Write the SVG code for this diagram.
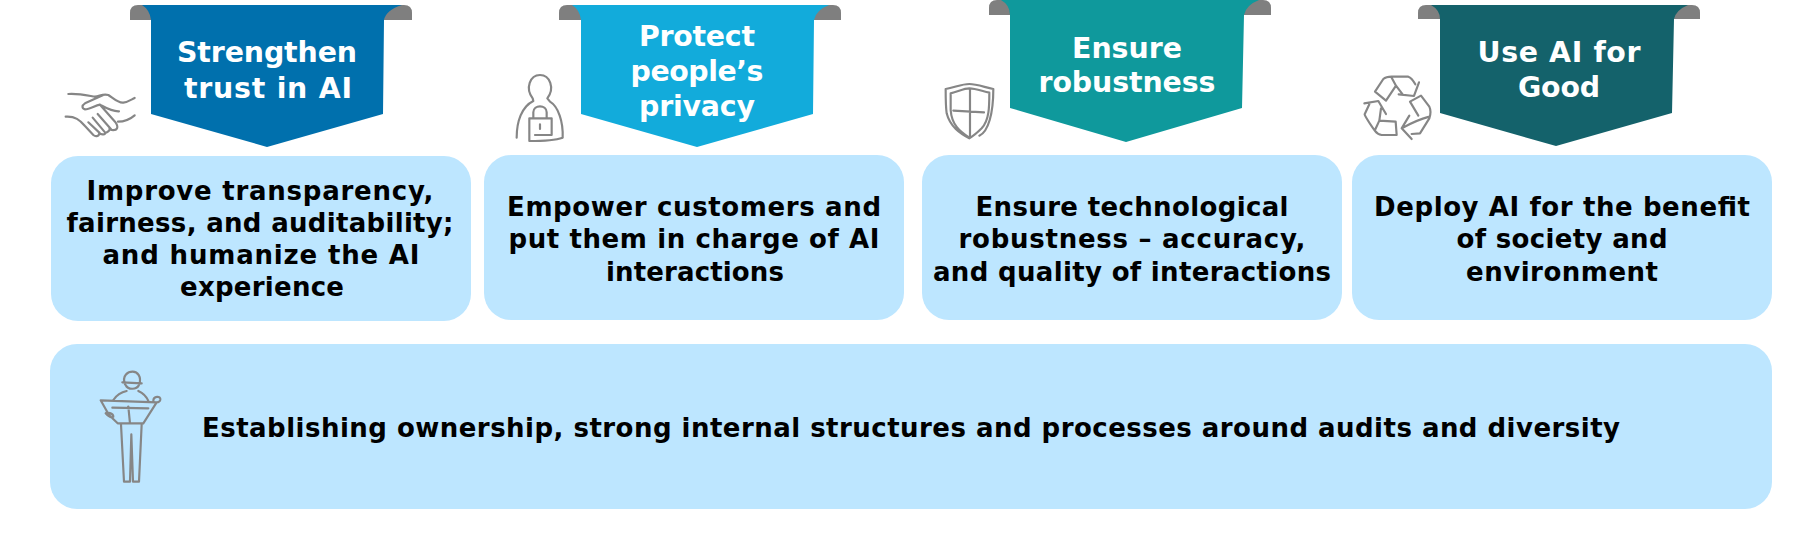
<svg xmlns="http://www.w3.org/2000/svg" width="1818" height="556" viewBox="0 0 1818 556">
<style>
.tab{fill:#7f7f7f}
.box{fill:#bde6ff}
.h{font:bold 28.4px "DejaVu Sans",Verdana,sans-serif;fill:#fff;text-anchor:middle}
.b{font:bold 26px "DejaVu Sans",Verdana,sans-serif;fill:#000;text-anchor:middle}
.l{text-anchor:start}
.ic{fill:none;stroke:#868686;stroke-width:6.5;stroke-linecap:round;stroke-linejoin:round}
</style>
<rect width="1818" height="556" fill="#fff"/>
<g id="pillar-trust">
<path class="tab" d="M130 20V13Q130 5 138 5H404Q412 5 412 13V20Z"/>
<path fill="#0070ad" d="M142 5H402Q386 10 384 20L383 114L267 147L151 114V20Q150 10 142 5Z"/>
<text class="h" x="267" y="62" textLength="180">Strengthen</text>
<text class="h" x="268" y="98" textLength="168">trust in AI</text>
<rect class="box" x="51" y="156" width="420" height="165" rx="27"/>
<text class="b" x="260" y="200" textLength="347">Improve transparency,</text>
<text class="b" x="260" y="232" textLength="387">fairness, and auditability;</text>
<text class="b" x="261" y="264" textLength="317">and humanize the AI</text>
<text class="b" x="262" y="296" textLength="164">experience</text>
<g transform="translate(50 70) scale(.3333)"><path class="ic" d="M55 72C90 70 120 78 135 80C150 78 160 70 175 75C190 85 205 100 220 98C235 96 245 88 254 84M160 75L105 100C95 106 95 116 105 118C120 118 135 106 150 104C165 112 185 125 207 124M47 140C75 138 90 150 105 168L130 195C138 202 148 198 148 188L115 157M128 143L165 187C170 194 152 196 148 188M143 132L178 172C184 182 165 192 165 187M150 104L195 155C208 172 202 182 185 180L178 172M204 155C220 155 240 148 254 136"/></g>
</g>
<g id="pillar-privacy">
<path class="tab" d="M559 20V13Q559 5 567 5H833Q841 5 841 13V20Z"/>
<path fill="#12abdb" d="M572 5H829Q816 10 814 20L813 114L697 147L581 114V20Q580 10 572 5Z"/>
<text class="h" x="697" y="46" textLength="116">Protect</text>
<text class="h" x="697" y="81" textLength="133">people’s</text>
<text class="h" x="697" y="116" textLength="116">privacy</text>
<rect class="box" x="484" y="155" width="420" height="165" rx="27"/>
<text class="b" x="694" y="216" textLength="374">Empower customers and</text>
<text class="b" x="694" y="248" textLength="371">put them in charge of AI</text>
<text class="b" x="695" y="281" textLength="178">interactions</text>
<g transform="translate(500 65) scale(.3333)"><path class="ic" d="M50 218C50 170 65 125 100 108L98 100C75 70 90 30 120 30C150 30 165 70 142 100L150 110C175 125 190 170 188 218C165 226 120 228 88 228V160H155V210H105M100 160V142C100 118 140 118 140 142V160M120 178V192"/></g>
</g>
<g id="pillar-robustness">
<path class="tab" d="M989 15V8Q989 0 997 0H1263Q1271 0 1271 8V15Z"/>
<path fill="#0f999c" d="M1001 0H1259Q1246 5 1244 15L1242 108L1126 142L1010 108V15Q1010 5 1001 0Z"/>
<text class="h" x="1127" y="58" textLength="110">Ensure</text>
<text class="h" x="1127" y="92" textLength="177">robustness</text>
<rect class="box" x="922" y="155" width="420" height="165" rx="27"/>
<text class="b" x="1132" y="216" textLength="313">Ensure technological</text>
<text class="b" x="1132" y="248" textLength="347">robustness – accuracy,</text>
<text class="b" x="1132" y="281" textLength="398">and quality of interactions</text>
<g transform="translate(930 70) scale(.3333)"><path class="ic" d="M148 197C175 185 190 130 190 57C165 52 140 42 118 42C95 42 75 52 47 57C47 90 47 110 50 130C60 170 90 190 118 205C130 198 140 190 155 175C178 150 178 110 178 68C160 65 138 55 118 55C100 55 85 65 62 70C62 85 62 100 62 120C65 165 90 185 118 203M120 58V122M70 122L162 127M120 127V200"/></g>
</g>
<g id="pillar-good">
<path class="tab" d="M1418 19V13Q1418 5 1426 5H1692Q1700 5 1700 13V19Z"/>
<path fill="#14626b" d="M1431 5H1688Q1676 10 1674 19L1672 113L1556 146L1440 113V19Q1440 10 1431 5Z"/>
<text class="h" x="1559" y="62" textLength="163">Use AI for</text>
<text class="h" x="1559" y="97" textLength="82">Good</text>
<rect class="box" x="1352" y="155" width="420" height="165" rx="27"/>
<text class="b" x="1562" y="216" textLength="376">Deploy AI for the benefit</text>
<text class="b" x="1562" y="248" textLength="211">of society and</text>
<text class="b" x="1562" y="281" textLength="192">environment</text>
<g transform="translate(1350 65) scale(.3333)"><path class="ic" d="M108 107L75 80L100 42Q108 35 125 35H175Q185 38 196 58M108 107L138 62L125 38M138 62L158 88M207 52L192 93L146 88M205 152L180 110L213 92L238 125Q245 140 238 160L210 205L185 207M178 152L155 190L185 222M155 190Q200 165 238 155M43 115L85 108L108 147M58 118L44 148Q45 155 75 198Q82 208 95 210H140L137 170L88 167L75 195M93 130L88 167"/></g>
</g>
<g id="foundation">
<rect class="box" x="50" y="344" width="1722" height="165" rx="27"/>
<text class="b l" x="202" y="437" textLength="1418">Establishing ownership, strong internal structures and processes around audits and diversity</text>
<g transform="translate(85 365) scale(.3333)"><path class="ic" d="M120 58C110 30 130 20 143 20C158 20 170 35 163 58M112 52L170 55M122 60C128 75 155 75 162 60M85 105C95 90 105 82 125 78M160 78C175 85 185 95 190 108M205 108C205 92 228 92 226 104C224 112 215 112 215 112L47 106L72 150L98 175H175L215 112M62 145C65 140 85 145 85 155C80 160 70 155 62 145M82 128L190 130M130 125L135 175M108 178L117 350H135L139 208L144 350H162L170 178"/></g>
</g>
</svg>
